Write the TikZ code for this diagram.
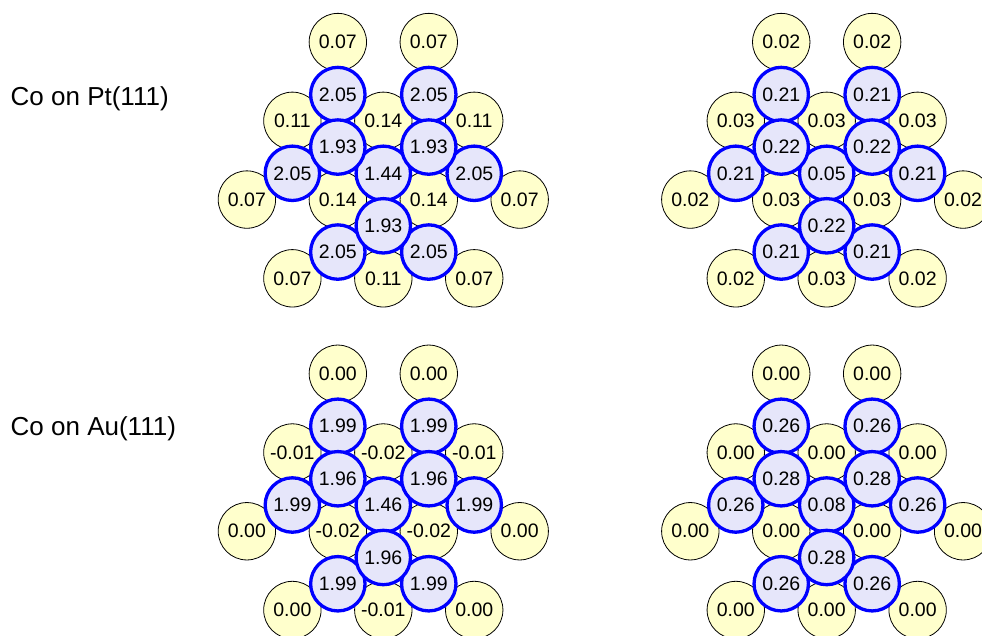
\documentclass[tikz,border=0pt]{standalone}
\usepackage{fontspec}
\setmainfont{Liberation Sans}
\definecolor{yfill}{RGB}{255,255,204}
\definecolor{bfill}{RGB}{230,230,250}
\definecolor{bline}{RGB}{0,0,255}
\tikzset{
  ycirc/.style={circle, draw=black, line width=0.8pt, fill=yfill, minimum size=57.4pt, inner sep=0pt, font=\fontsize{19.5}{23}\selectfont},
  bcirc/.style={circle, draw=bline, line width=3.3pt, fill=bfill, minimum size=54.4pt, inner sep=0pt, font=\fontsize{19.5}{23}\selectfont},
  paneltitle/.style={anchor=base west, inner sep=0pt, font=\fontsize{26}{30}\selectfont}
}
% #1 prefix, #2 cx, #3 cy, #4 outer yellow, #5 yellow type 2, #6 yellow type 3,
% #7 centre blue, #8 inner blue, #9 outer blue
\newcommand\drawpanel[9]{%
\begin{scope}[shift={(#2,#3)}]
  % substrate atoms
  \node[ycirc] (#1ya) at (-45.47,-131.25) {#4};
  \node[ycirc] (#1yb) at (45.47,-131.25) {#4};
  \node[ycirc] (#1yc) at (-136.40,26.25) {#4};
  \node[ycirc] (#1yd) at (136.40,26.25) {#4};
  \node[ycirc] (#1ye) at (-90.93,105) {#4};
  \node[ycirc] (#1yf) at (90.93,105) {#4};
  \node[ycirc] (#1yg) at (-90.93,-52.5) {#5};
  \node[ycirc] (#1yh) at (90.93,-52.5) {#5};
  \node[ycirc] (#1yi) at (0,105) {#5};
  \node[ycirc] (#1yj) at (0,-52.5) {#6};
  \node[ycirc] (#1yk) at (-45.47,26.25) {#6};
  \node[ycirc] (#1yl) at (45.47,26.25) {#6};
  % Co atoms: outer ring and centre
  \node[bcirc] (#1ba) at (-45.47,-78.75) {#9};
  \node[bcirc] (#1bb) at (45.47,-78.75) {#9};
  \node[bcirc] (#1bc) at (-90.93,0) {#9};
  \node[bcirc] (#1bd) at (90.93,0) {#9};
  \node[bcirc] (#1be) at (-45.47,78.75) {#9};
  \node[bcirc] (#1bf) at (45.47,78.75) {#9};
  \node[bcirc] (#1bg) at (0,0) {#7};
  % inner Co atoms
  \node[bcirc] (#1bh) at (-45.47,-26.25) {#8};
  \node[bcirc] (#1bi) at (45.47,-26.25) {#8};
  \node[bcirc] (#1bj) at (0,52.5) {#8};
\end{scope}}
\begin{document}
\begin{tikzpicture}[x=1pt,y=-1pt]
\clip (0,0) rectangle (982,635);
\fill[white] (0,0) rectangle (982,635);
\node[paneltitle] (tpt) at (10.5,105) {Co on Pt(111)};
\node[paneltitle] (tau) at (10.5,435) {Co on Au(111)};
\drawpanel{pa}{383.3}{173.3}{0.07}{0.11}{0.14}{1.44}{1.93}{2.05}
\drawpanel{pb}{826.7}{173.3}{0.02}{0.03}{0.03}{0.05}{0.22}{0.21}
\drawpanel{pc}{383.3}{505}{0.00}{-0.01}{-0.02}{1.46}{1.96}{1.99}
\drawpanel{pd}{826.7}{505}{0.00}{0.00}{0.00}{0.08}{0.28}{0.26}
\end{tikzpicture}
\end{document}
